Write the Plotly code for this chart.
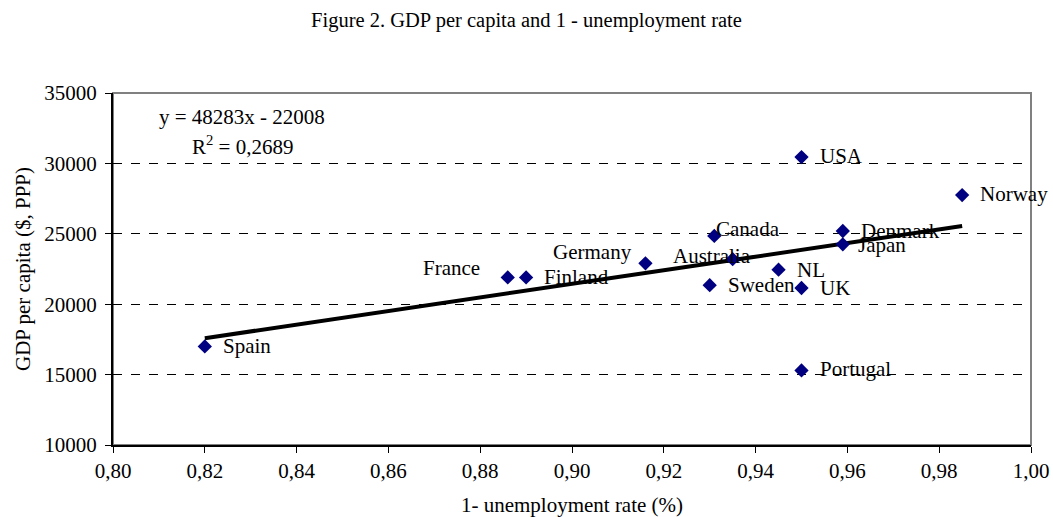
import plotly.graph_objects as go

# Employment share (1 - unemployment rate) and GDP per capita ($, PPP)
countries = ["Spain", "France", "Finland", "Germany", "Canada", "Australia", "Sweden",
             "NL", "UK", "USA", "Portugal", "Denmark", "Japan", "Norway"]
employment = [0.820, 0.886, 0.890, 0.916, 0.931, 0.935, 0.930,
              0.945, 0.950, 0.950, 0.950, 0.959, 0.959, 0.985]
gdp_pc = [17000, 21900, 21900, 22900, 24850, 23200, 21350,
          22450, 21150, 30450, 15300, 25200, 24250, 27750]

# Linear trend reported on the chart
slope = 48283
intercept = -22008
r_squared = "0,2689"

x_ticks = [0.80, 0.82, 0.84, 0.86, 0.88, 0.90, 0.92, 0.94, 0.96, 0.98, 1.00]
y_ticks = [10000, 15000, 20000, 25000, 30000, 35000]

# label placement (pixel offsets, anchors) per country
label_pos = {
    "Spain": (16, 0, "left"),
    "France": (-26, 9, "right"),
    "Finland": (16, 0, "left"),
    "Germany": (-11, 11, "right"),
    "Canada": (0, 7, "left"),
    "Australia": (-21, 3, "center"),
    "Sweden": (16, 0, "left"),
    "NL": (16, 0, "left"),
    "UK": (16, 0, "left"),
    "USA": (16, 1, "left"),
    "Portugal": (16, 1, "left"),
    "Denmark": (16, 0, "left"),
    "Japan": (13, -1, "left"),
    "Norway": (16, 1, "left"),
}

serif = "Liberation Serif, Times New Roman, serif"
fs = 21

fig = go.Figure()

x0, x1 = min(employment), max(employment)
fig.add_trace(go.Scatter(
    x=[x0, x1], y=[slope * x0 + intercept, slope * x1 + intercept],
    mode="lines", line=dict(color="black", width=4),
    hoverinfo="skip", showlegend=False,
))

fig.add_trace(go.Scatter(
    x=employment, y=gdp_pc, mode="markers",
    marker=dict(symbol="diamond", size=11, color="#000080"),
    showlegend=False,
))

for name, xv, yv in zip(countries, employment, gdp_pc):
    dx, dy, xa = label_pos[name]
    fig.add_annotation(
        x=xv, y=yv, text=name, showarrow=False,
        xanchor=xa, yanchor="middle", xshift=dx, yshift=dy,
        font=dict(family=serif, size=fs, color="black"),
    )

fig.add_annotation(
    x=0.8096, y=33300, xref="x", yref="y", text="y = 48283x - 22008",
    showarrow=False, xanchor="left", yanchor="middle",
    font=dict(family=serif, size=fs, color="black"),
)
fig.add_annotation(
    x=0.8168, y=31300, xref="x", yref="y", text="R<sup>2</sup> = " + r_squared,
    showarrow=False, xanchor="left", yanchor="middle",
    font=dict(family=serif, size=fs, color="black"),
)

fig.update_layout(
    width=1053, height=517,
    margin=dict(l=113, r=22, t=93, b=72, autoexpand=False),
    paper_bgcolor="white", plot_bgcolor="white",
    separators=",.",
    title=dict(
        text="Figure 2. GDP per capita and 1 - unemployment rate",
        x=0.5, xanchor="center", y=0.962, yanchor="middle",
        font=dict(family=serif, size=20.5, color="black"),
    ),
    font=dict(family=serif, size=fs, color="black"),
    shapes=[dict(type="rect", xref="paper", yref="paper", x0=0, y0=0, x1=1, y1=1,
                 line=dict(color="#808080", width=2), layer="below")],
)

fig.update_xaxes(
    range=[0.80, 1.00], tickvals=x_ticks, tickformat=".2f",
    showgrid=False, zeroline=False, automargin=False,
    showline=True, linecolor="black", linewidth=2,
    ticks="outside", ticklen=6, tickcolor="black", tickwidth=1,
    title=dict(text="1- unemployment rate (%)", font=dict(family=serif, size=fs), standoff=15),
    tickfont=dict(family=serif, size=fs),
)
fig.update_yaxes(
    range=[10000, 35000], tickvals=y_ticks, tickformat="d",
    showgrid=True, gridcolor="black", griddash="dash", gridwidth=1,
    zeroline=False, automargin=False,
    showline=True, linecolor="black", linewidth=2,
    ticks="outside", ticklen=6, tickcolor="black", tickwidth=1,
    ticklabelstandoff=4,
    title=dict(text="GDP per capita ($, PPP)", font=dict(family=serif, size=fs), standoff=8),
    tickfont=dict(family=serif, size=fs),
)

fig.write_html("out.html")
